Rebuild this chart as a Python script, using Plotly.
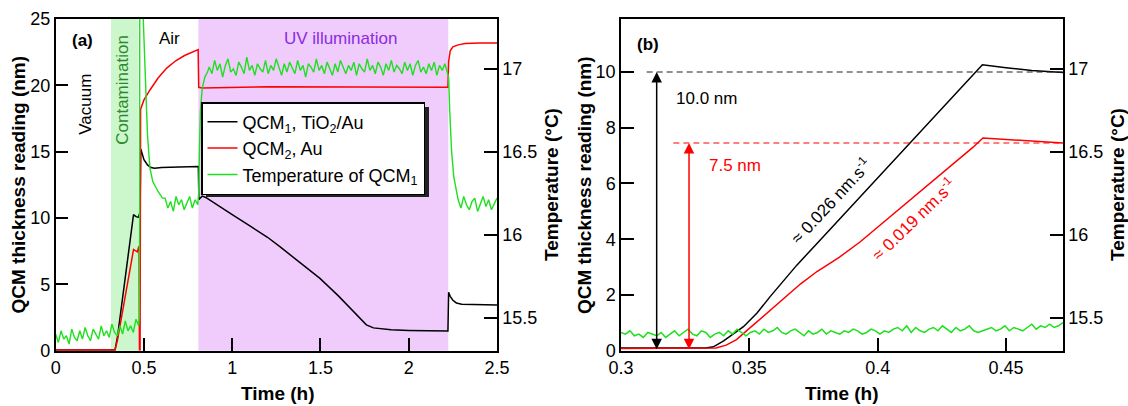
import numpy as np
import plotly.graph_objects as go

# ---------------- data: panel (a) ----------------
a_black_t = [0, 0.336, 0.35, 0.3769, 0.4408, 0.455, 0.468, 0.474, 0.478, 0.482, 0.49, 0.50, 0.52, 0.54,
             0.56, 0.60, 0.70, 0.808, 0.811, 0.83, 0.85, 0.90, 1.00, 1.10, 1.20, 1.27, 1.384, 1.497, 1.60,
             1.70, 1.76, 1.80, 1.85, 1.90, 2.00, 2.10, 2.222, 2.226, 2.235, 2.25, 2.27, 2.30, 2.40, 2.50]
a_black_v = [0.05, 0.05, 1.05, 3.9, 10.26, 10.1, 10.05, 10.3, 10.3, 15.2, 14.9, 14.4, 14.0, 13.8,
             13.75, 13.8, 13.85, 13.88, 11.4, 11.65, 11.55, 11.1, 10.25, 9.4, 8.55, 7.84, 6.65, 5.45, 4.15,
             2.75, 1.95, 1.72, 1.62, 1.57, 1.53, 1.50, 1.48, 4.4, 4.1, 3.8, 3.6, 3.5, 3.45, 3.45]

a_red_t = [0, 0.336, 0.35, 0.3765, 0.441, 0.462, 0.468, 0.472, 0.474, 0.478, 0.481, 0.50, 0.534, 0.58,
           0.629, 0.68, 0.73, 0.78, 0.807, 0.810, 0.83, 1.2, 1.8, 2.222, 2.226, 2.235, 2.25, 2.28, 2.32,
           2.40, 2.50]
a_red_v = [0.05, 0.05, 0.8, 2.85, 7.63, 7.45, 7.9, 7.9, 0.05, 0.05, 18.2, 18.9, 19.65, 20.55,
           21.3, 21.85, 22.25, 22.55, 22.7, 19.85, 19.8, 19.9, 19.85, 19.85, 21.8, 22.6, 22.9, 23.05, 23.15,
           23.2, 23.2]

# temperature of QCM1 (a), read segment by segment
temp_vac_span = [0.0, 0.47]
temp_vac = [15.40, 15.35, 15.42, 15.37, 15.39, 15.34, 15.43, 15.38, 15.36, 15.42, 15.37, 15.44, 15.39,
            15.36, 15.43, 15.40, 15.37, 15.45, 15.39, 15.42, 15.38, 15.46, 15.41, 15.39, 15.45, 15.40,
            15.48, 15.42, 15.45, 15.41, 15.49, 15.45]
temp_jump1_t = [0.474, 0.477, 0.49, 0.496, 0.51, 0.52, 0.534, 0.55, 0.58, 0.605]
temp_jump1_v = [15.5, 18.0, 18.0, 17.3, 16.85, 16.6, 16.4, 16.32, 16.26, 16.22]
temp_air1_span = [0.62, 0.805]
temp_air1 = [16.22, 16.16, 16.20, 16.14, 16.23, 16.18, 16.21, 16.15, 16.19, 16.23, 16.16, 16.21, 16.18]
temp_jump2_t = [0.81, 0.815, 0.82, 0.83, 0.845, 0.86]
temp_jump2_v = [16.25, 16.55, 16.75, 16.88, 16.95, 16.98]
temp_uv_span = [0.87, 2.22]
temp_uv = [17.01, 16.97, 17.05, 16.99, 17.03, 16.95, 17.02, 17.06, 16.98, 17.00, 16.96, 17.04, 17.01, 16.97,
           17.07, 16.99, 17.02, 16.96, 17.03, 17.00, 16.98, 17.05, 16.97, 17.02, 16.99, 17.06, 17.01, 16.96,
           17.03, 16.98, 17.04, 17.00, 16.97, 17.05, 16.99, 17.02, 16.95, 17.03, 17.01, 16.98, 17.06, 16.99,
           17.02, 16.97, 17.04, 17.00, 16.96, 17.03, 16.98, 17.05, 17.01, 16.97, 17.02, 16.99, 17.04, 16.96,
           17.03, 17.00, 16.98, 17.06, 16.99, 17.02, 16.97, 17.04, 17.01, 16.96, 17.03, 16.99, 17.05, 16.98,
           17.02, 17.00, 16.97, 17.04, 16.99, 17.03, 16.96, 17.02, 17.05, 16.98, 17.01, 16.97, 17.03, 16.99,
           17.04, 16.96, 17.02, 16.99, 17.03, 16.97]
temp_jump3_t = [2.226, 2.232, 2.243, 2.255, 2.272]
temp_jump3_v = [16.95, 16.75, 16.5, 16.35, 16.25]
temp_air2_span = [2.28, 2.5]
temp_air2 = [16.21, 16.16, 16.23, 16.18, 16.15, 16.20, 16.22, 16.14, 16.19, 16.23, 16.17, 16.21, 16.15,
             16.19, 16.22]

contamination_band = [0.313, 0.466]
uv_band = [0.808, 2.224]

# ---------------- data: panel (b) ----------------
b_black_t = [0.30, 0.333, 0.336, 0.340, 0.3477, 0.353, 0.3581, 0.3633, 0.3685, 0.3769, 0.4408, 0.45,
             0.46, 0.4722]
b_black_v = [0.10, 0.10, 0.14, 0.35, 0.86, 1.35, 1.94, 2.5, 3.07, 3.9, 10.26, 10.15, 10.05, 9.98]
b_red_t = [0.30, 0.333, 0.337, 0.341, 0.345, 0.35, 0.355, 0.36, 0.365, 0.37, 0.3765, 0.385, 0.3931,
           0.4126, 0.4373, 0.441, 0.4722]
b_red_v = [0.08, 0.08, 0.10, 0.20, 0.40, 0.80, 1.20, 1.60, 2.00, 2.40, 2.85, 3.35, 3.90,
           5.40, 7.31, 7.63, 7.45]
b_temp_span = [0.30, 0.4722]
b_temp = [15.41, 15.40, 15.42, 15.39, 15.40, 15.38, 15.41, 15.40, 15.39, 15.41, 15.38, 15.40, 15.42, 15.39,
          15.41, 15.43, 15.40, 15.39, 15.42, 15.41, 15.38, 15.40, 15.41, 15.39, 15.42, 15.40, 15.43, 15.41,
          15.39, 15.41, 15.42, 15.40, 15.43, 15.41, 15.42, 15.44, 15.41, 15.40, 15.42, 15.43, 15.41, 15.39,
          15.42, 15.40, 15.41, 15.43, 15.40, 15.42, 15.41, 15.40, 15.42, 15.41, 15.43, 15.42, 15.40, 15.41,
          15.43, 15.42, 15.40, 15.42, 15.41, 15.43, 15.44, 15.42, 15.45, 15.41, 15.44, 15.42, 15.41, 15.43,
          15.44, 15.42, 15.45, 15.43, 15.41, 15.44, 15.42, 15.43, 15.45, 15.42, 15.41, 15.42, 15.43, 15.44,
          15.42, 15.43, 15.45, 15.42, 15.44, 15.43, 15.42, 15.44, 15.46, 15.43, 15.45, 15.44, 15.46, 15.44,
          15.45, 15.47]

ref_levels = [10.0, 7.45]          # dashed reference levels (black, red)
ref_start = [0.31, 0.3204]         # where dashed lines begin
arrow_x = [0.3139, 0.3265]         # double arrows (black, red)

# ---------------- assemble temperature (a) ----------------
def seg(span, vals):
    return list(np.linspace(span[0], span[1], len(vals))), list(vals)

ta, va = [], []
for t, v in [seg(temp_vac_span, temp_vac), (temp_jump1_t, temp_jump1_v), seg(temp_air1_span, temp_air1),
             (temp_jump2_t, temp_jump2_v), seg(temp_uv_span, temp_uv), (temp_jump3_t, temp_jump3_v),
             seg(temp_air2_span, temp_air2)]:
    ta += list(t)
    va += list(v)
tb, vb = seg(b_temp_span, b_temp)

BLACK = "#000000"
RED = "#ff0000"
GREEN = "#1ee01e"
FONT = "Liberation Sans, Arial, sans-serif"

fig = go.Figure()
fig.add_trace(go.Scatter(x=a_black_t, y=a_black_v, mode="lines", line=dict(color=BLACK, width=1.5),
                         name="QCM<sub>1</sub>, TiO<sub>2</sub>/Au", xaxis="x", yaxis="y", legendgroup="g1"))
fig.add_trace(go.Scatter(x=a_red_t, y=a_red_v, mode="lines", line=dict(color=RED, width=1.5),
                         name="QCM<sub>2</sub>, Au", xaxis="x", yaxis="y", legendgroup="g2"))
fig.add_trace(go.Scatter(x=ta, y=va, mode="lines", line=dict(color=GREEN, width=1.4),
                         name="Temperature of QCM<sub>1</sub>", xaxis="x", yaxis="y2", legendgroup="g3"))
fig.add_trace(go.Scatter(x=b_black_t, y=b_black_v, mode="lines", line=dict(color=BLACK, width=1.5),
                         showlegend=False, xaxis="x2", yaxis="y3"))
fig.add_trace(go.Scatter(x=b_red_t, y=b_red_v, mode="lines", line=dict(color=RED, width=1.5),
                         showlegend=False, xaxis="x2", yaxis="y3"))
fig.add_trace(go.Scatter(x=tb, y=vb, mode="lines", line=dict(color=GREEN, width=1.5),
                         showlegend=False, xaxis="x2", yaxis="y4"))

W, H = 1128, 406
def px(x):
    return x / W
def py(y):
    return 1 - y / H

dom_y = [py(350.7), py(19)]
dom_xa = [px(55.7), px(497)]
dom_xb = [px(621), px(1063)]

axis_common = dict(showline=True, linecolor="black", linewidth=1.5, ticks="inside", ticklen=13,
                   tickwidth=1.5, tickcolor="black", showgrid=False, zeroline=False, automargin=False,
                   tickfont=dict(size=18, color="black", family=FONT))

fig.update_layout(
    width=W, height=H, margin=dict(l=0, r=0, t=0, b=0, autoexpand=False),
    paper_bgcolor="white", plot_bgcolor="white",
    font=dict(family=FONT, size=17, color="black"),
    xaxis=dict(domain=dom_xa, range=[0, 2.5], anchor="y", tickvals=[0, 0.5, 1, 1.5, 2, 2.5],
               ticktext=["0", "0.5", "1", "1.5", "2", "2.5"], mirror=True, **axis_common),
    yaxis=dict(domain=dom_y, range=[0, 25], anchor="x", tickvals=[0, 5, 10, 15, 20, 25], **axis_common),
    yaxis2=dict(range=[15.3, 17.3], overlaying="y", side="right", anchor="x",
                tickvals=[15.5, 16, 16.5, 17], ticktext=["15.5", "16", "16.5", "17"], **axis_common),
    xaxis2=dict(domain=dom_xb, range=[0.3, 0.4722], anchor="y3", tickvals=[0.3, 0.35, 0.4, 0.45],
                ticktext=["0.3", "0.35", "0.4", "0.45"], mirror=True, **axis_common),
    yaxis3=dict(domain=dom_y, range=[0, 11.9], anchor="x2", tickvals=[0, 2, 4, 6, 8, 10], **axis_common),
    yaxis4=dict(range=[15.3, 17.3], overlaying="y3", side="right", anchor="x2",
                tickvals=[15.5, 16, 16.5, 17], ticktext=["15.5", "16", "16.5", "17"], **axis_common),
    legend=dict(x=px(201), y=py(102), xanchor="left", yanchor="top", bgcolor="white",
                bordercolor="black", borderwidth=1.5, font=dict(size=18, family=FONT, color="black"),
                tracegroupgap=0),
)

shapes = [
    dict(type="rect", xref="x", yref="y domain", x0=contamination_band[0], x1=contamination_band[1],
         y0=0, y1=1, fillcolor="#ccf7cc", line=dict(width=0), layer="below"),
    dict(type="rect", xref="x", yref="y domain", x0=uv_band[0], x1=uv_band[1],
         y0=0, y1=1, fillcolor="#efccfc", line=dict(width=0), layer="below"),
    # legend shadow
    dict(type="rect", xref="paper", yref="paper", x0=px(206), x1=px(429), y0=py(197), y1=py(107),
         fillcolor="#222222", line=dict(width=0), layer="above"),
    dict(type="line", xref="x2", yref="y3", x0=ref_start[0], x1=0.4722, y0=ref_levels[0], y1=ref_levels[0],
         line=dict(color="#222222", width=1.1, dash="6px,4px")),
    dict(type="line", xref="x2", yref="y3", x0=ref_start[1], x1=0.4722, y0=ref_levels[1], y1=ref_levels[1],
         line=dict(color=RED, width=1.1, dash="6px,4px")),
]
fig.update_layout(shapes=shapes)

C = dict(xanchor="center", yanchor="middle", showarrow=False)
ann = [
    dict(text="<b>(a)</b>", x=0.149, y=23.4, xref="x", yref="y", font=dict(size=17), **C),
    dict(text="Vacuum", x=0.171, y=18.6, xref="x", yref="y", textangle=-90, font=dict(size=17), **C),
    dict(text="Contamination", x=0.378, y=19.7, xref="x", yref="y", textangle=-90,
         font=dict(size=17, color="#2a8a2a"), **C),
    dict(text="Air", x=0.642, y=23.5, xref="x", yref="y", font=dict(size=17), **C),
    dict(text="UV illumination", x=1.613, y=23.5, xref="x", yref="y", font=dict(size=17, color="#8a2be2"), **C),
    dict(text="<b>(b)</b>", x=0.3105, y=11.0, xref="x2", yref="y3", font=dict(size=17), **C),
    dict(text="10.0 nm", x=0.3207, y=9.06, xref="x2", yref="y3", showarrow=False, xanchor="left",
         yanchor="middle", font=dict(size=17)),
    dict(text="7.5 nm", x=0.3335, y=6.66, xref="x2", yref="y3", showarrow=False, xanchor="left",
         yanchor="middle", font=dict(size=17, color=RED)),
    dict(text="≈ 0.026 nm.s<sup>-1</sup>", x=0.3818, y=5.4, xref="x2", yref="y3", textangle=-47,
         font=dict(size=17), **C),
    dict(text="≈ 0.019 nm.s<sup>-1</sup>", x=0.4138, y=4.72, xref="x2", yref="y3", textangle=-44,
         font=dict(size=17, color=RED), **C),
    # double arrows
    dict(text="", x=arrow_x[0], y=ref_levels[0], ax=arrow_x[0], ay=0, xref="x2", yref="y3", axref="x2",
         ayref="y3", showarrow=True, arrowside="end+start", arrowhead=2, arrowsize=1.4, arrowwidth=1.5,
         arrowcolor=BLACK, standoff=0, startstandoff=0),
    dict(text="", x=arrow_x[1], y=ref_levels[1], ax=arrow_x[1], ay=0, xref="x2", yref="y3", axref="x2",
         ayref="y3", showarrow=True, arrowside="end+start", arrowhead=2, arrowsize=1.4, arrowwidth=1.5,
         arrowcolor=RED, standoff=0, startstandoff=0),
    # axis titles
    dict(text="<b>QCM thickness reading (nm)</b>", x=px(18.5), y=py(185), xref="paper", yref="paper",
         textangle=-90, font=dict(size=19), **C),
    dict(text="<b>Temperature (°C)</b>", x=px(552), y=py(185), xref="paper", yref="paper",
         textangle=-90, font=dict(size=19), **C),
    dict(text="<b>Time (h)</b>", x=px(278), y=py(393), xref="paper", yref="paper", font=dict(size=19), **C),
    dict(text="<b>QCM thickness reading (nm)</b>", x=px(585), y=py(185), xref="paper", yref="paper",
         textangle=-90, font=dict(size=19), **C),
    dict(text="<b>Temperature (°C)</b>", x=px(1118), y=py(185), xref="paper", yref="paper",
         textangle=-90, font=dict(size=19), **C),
    dict(text="<b>Time (h)</b>", x=px(842), y=py(393), xref="paper", yref="paper", font=dict(size=19), **C),
]
fig.update_layout(annotations=ann)

fig.write_html("out.html")
